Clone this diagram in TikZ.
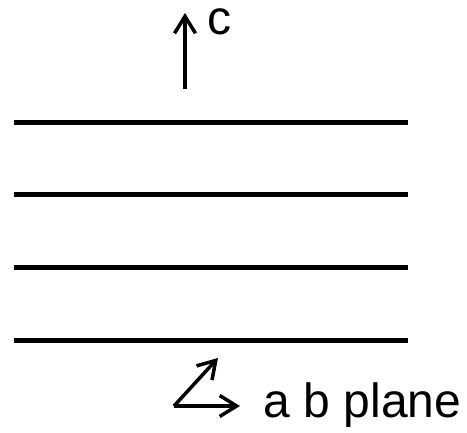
\documentclass[tikz,border=0pt]{standalone}
\usepackage{fontspec}
\setmainfont{Liberation Sans}
\usetikzlibrary{arrows.meta, positioning}

\begin{document}
\begin{tikzpicture}[x=1pt, y=-1pt, line width=3.5pt,
    layer/.style={line width=5pt},
    axis/.style={-{Straight Barb[length=17pt, width=21pt, line width=3.5pt]}},
    lbl/.style={font=\fontsize{48}{52}\selectfont, inner sep=0pt}]
    \useasboundingbox (0,0) rectangle (467,433);

    % Layers
    \foreach \y/\n in {123/1, 195/2, 268/3, 341/4} {
        \coordinate (l\n w) at (14,\y);
        \coordinate (l\n e) at (408,\y);
        \draw[layer] (l\n w) -- (l\n e);
    }

    % c axis
    \coordinate (cbot) at (185,89);
    \coordinate (ctop) at (185,13);
    \draw[axis] (cbot) -- (ctop);
    \node[lbl, anchor=base west] (clabel) at (206,35) {c};

    % ab plane
    \coordinate (o) at (174,406);
    \coordinate (a) at (218,358);
    \coordinate (b) at (240,406);
    \draw[axis] (o) -- (a);
    \draw[axis] (o) -- (b);
    \node[lbl, anchor=base west] (ablabel) at (262,418) {a b plane};
\end{tikzpicture}
\end{document}
